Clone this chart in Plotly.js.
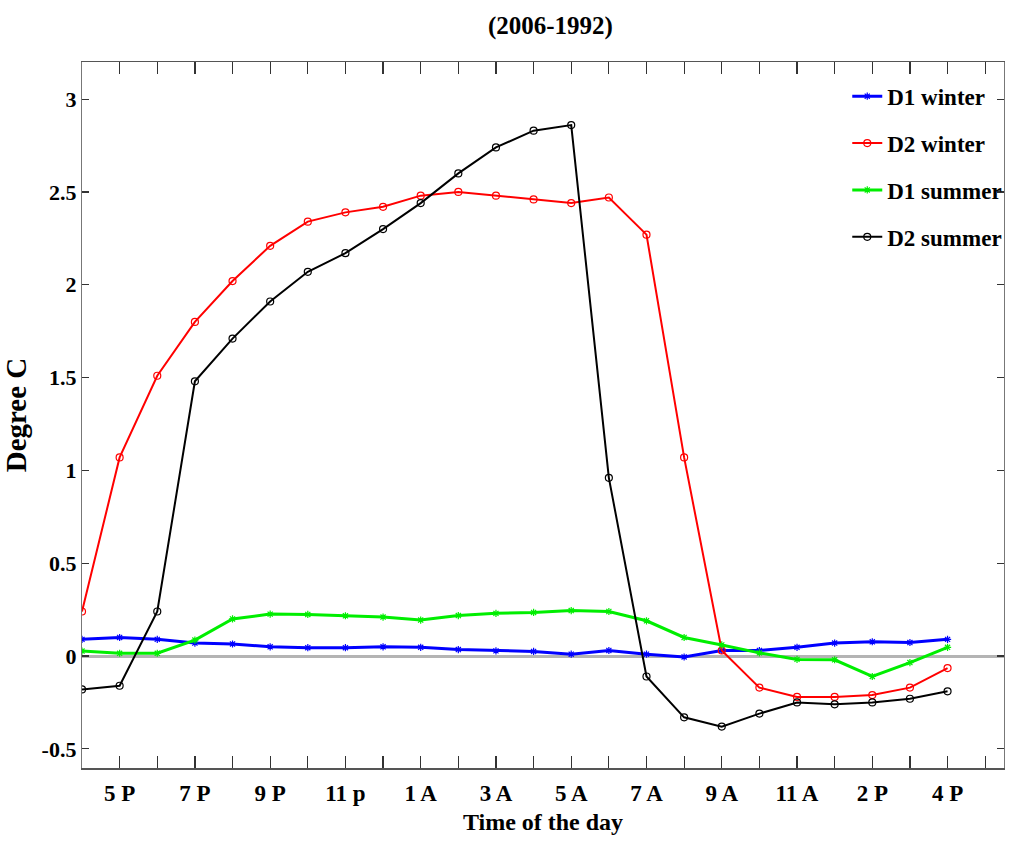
<!DOCTYPE html>
<html>
<head>
<meta charset="utf-8">
<script src="https://cdn.plot.ly/plotly-3.0.1.min.js"></script>
<style>
  html, body { margin: 0; padding: 0; background: #fff; }
  #chart { width: 1016px; height: 850px; }
</style>
</head>
<body>
<div id="chart"></div>
<script>
// Hourly temperature difference (°C), 24 readings starting at 4 PM
const hourIndex = [0,1,2,3,4,5,6,7,8,9,10,11,12,13,14,15,16,17,18,19,20,21,22,23];

// Labels shown on every second hour
const hourLabels = ['5 P','7 P','9 P','11 p','1 A','3 A','5 A','7 A','9 A','11 A','2 P','4 P'];

const d1Winter = [0.09,0.10,0.09,0.07,0.065,0.05,0.045,0.045,0.05,0.047,0.035,0.028,0.025,0.01,0.03,0.01,-0.005,0.03,0.03,0.047,0.07,0.077,0.073,0.09];
const d2Winter = [0.24,1.07,1.51,1.80,2.02,2.21,2.34,2.39,2.42,2.48,2.50,2.48,2.46,2.44,2.47,2.27,1.07,0.03,-0.17,-0.22,-0.22,-0.21,-0.17,-0.065];
const d1Summer = [0.027,0.015,0.015,0.086,0.20,0.226,0.224,0.217,0.21,0.194,0.218,0.23,0.235,0.245,0.24,0.19,0.10,0.06,0.017,-0.018,-0.02,-0.11,-0.035,0.047];
const d2Summer = [-0.18,-0.16,0.24,1.48,1.71,1.91,2.07,2.17,2.30,2.44,2.60,2.74,2.83,2.86,0.96,-0.11,-0.33,-0.38,-0.31,-0.25,-0.26,-0.25,-0.23,-0.19];

// Tick at every hour, text on the odd ones
const tickPositions = [];
const tickText = [];
for (let i = 0; i <= 24; i++) {
  tickPositions.push(i);
  tickText.push(i % 2 === 1 ? hourLabels[(i - 1) / 2] : '');
}

const serif = 'Liberation Serif, Times New Roman, serif';

function series(name, y, color, width, symbol, size) {
  return {
    type: 'scatter', mode: 'lines+markers', name: name, legendgroup: name,
    x: hourIndex, y: y,
    line: { color: color, width: width },
    marker: { symbol: symbol, size: size, color: color, line: { color: color, width: 1.2 } }
  };
}

const traces = [
  series('D1 winter', d1Winter, '#0000ff', 3, 'asterisk-open', 6),
  series('D2 winter', d2Winter, '#ff0000', 2, 'circle-open', 7),
  series('D1 summer', d1Summer, '#00ee00', 3, 'asterisk-open', 6),
  series('D2 summer', d2Summer, '#000000', 2, 'circle-open', 7)
];

const layout = {
  width: 1016, height: 850,
  margin: { l: 82, r: 12, t: 62, b: 82, autoexpand: false },
  paper_bgcolor: '#fff', plot_bgcolor: '#fff',
  font: { family: serif, color: '#000', size: 20 },
  title: {
    text: '<b>(2006-1992)</b>', font: { family: serif, size: 25 },
    x: 0.508, xref: 'paper', y: 0.97, yanchor: 'middle'
  },
  xaxis: {
    range: [0, 24.5], tickmode: 'array', tickvals: tickPositions, ticktext: tickText,
    ticks: 'inside', ticklen: 12, tickcolor: '#333', tickwidth: 1.2,
    showline: true, linecolor: '#555', linewidth: 1.5, mirror: 'ticks',
    showgrid: false, zeroline: false,
    ticklabelstandoff: 4,
    tickfont: { family: serif, size: 23, weight: 'bold' },
    title: { text: '<b>Time of the day</b>', font: { family: serif, size: 24 }, standoff: 8 }
  },
  yaxis: {
    range: [-0.603, 3.2], tickmode: 'array', tickvals: [-0.5, 0, 0.5, 1, 1.5, 2, 2.5, 3],
    ticktext: ['-0.5', '0', '0.5', '1', '1.5', '2', '2.5', '3'],
    ticks: 'inside', ticklen: 7, tickcolor: '#333', tickwidth: 1.2,
    showline: true, linecolor: '#777', linewidth: 1.2, mirror: 'ticks',
    showgrid: false,
    zeroline: true, zerolinecolor: '#b4b4b4', zerolinewidth: 3,
    tickfont: { family: serif, size: 22, weight: 'bold' },
    title: { text: '<b>Degree C</b>', font: { family: serif, size: 29 }, standoff: 6 }
  },
  legend: {
    x: 0.83, y: 0.982, xanchor: 'left', yanchor: 'top',
    bgcolor: 'rgba(255,255,255,0)', borderwidth: 0,
    font: { family: serif, size: 23, weight: 'bold' },
    tracegroupgap: 14, itemwidth: 30
  },
  showlegend: true
};

Plotly.newPlot('chart', traces, layout, { displayModeBar: false, staticPlot: true });
</script>
</body>
</html>
